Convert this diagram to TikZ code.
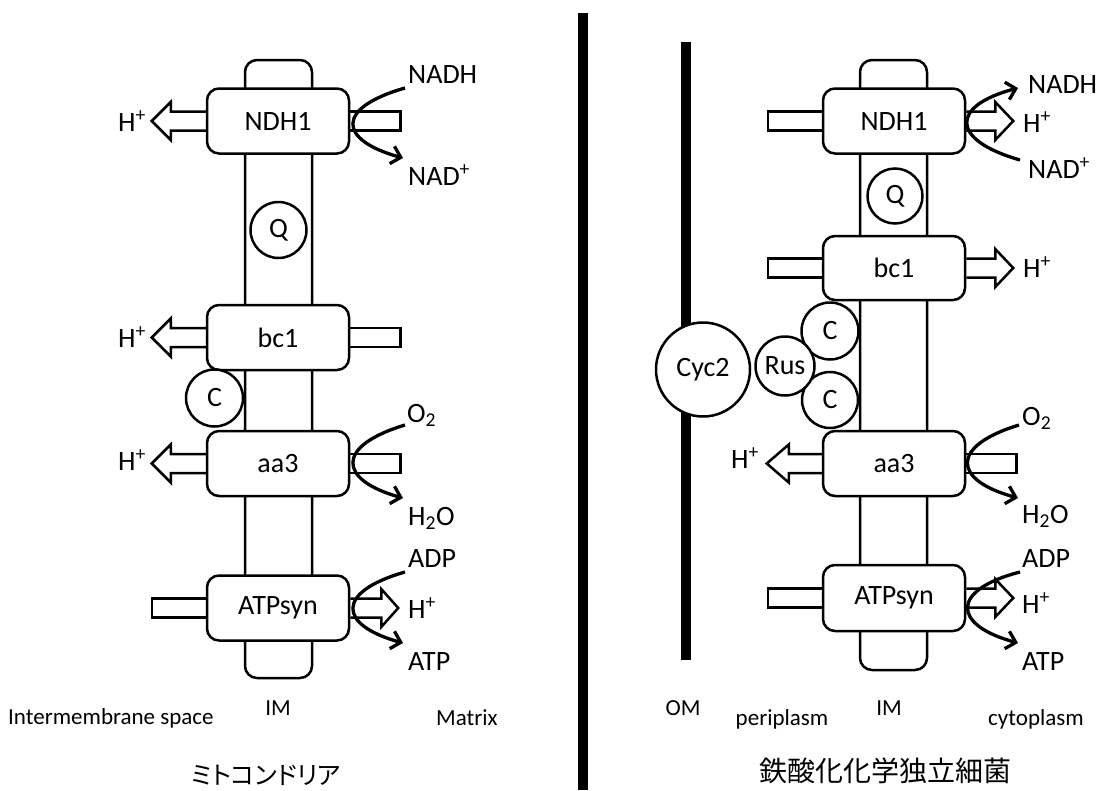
\documentclass[tikz,border=0pt]{standalone}
\usepackage{fontspec}
\setmainfont{Carlito}
\newfontfamily\cjkfont{Noto Sans CJK JP}
\newfontfamily\cjkpfont[RawFeature=+palt]{Noto Sans CJK JP}
\usetikzlibrary{calc,arrows.meta}
\pgfdeclarelayer{bot}
\pgfdeclarelayer{bg}
\pgfsetlayers{bot,bg,main}
\newcommand{\blkleft}[3]{\draw[blk] ($(#1.west)+(0,-9.5)$) -- ++(-#2,0) -- ++(0,-9.5) -- ++(-#3,19) -- ++(#3,19) -- ++(0,-9.5) -- ++(#2,0);}
\newcommand{\blkright}[3]{\draw[blk] ($(#1.east)+(0,-9.5)$) -- ++(#2,0) -- ++(0,-9.5) -- ++(#3,19) -- ++(-#3,19) -- ++(0,-9.5) -- ++(-#2,0);}
\newcommand{\stubleft}[2]{\draw[blk] ($(#1.west)+(0,-9.5)$) -- ++(-#2,0) -- ++(0,19) -- ++(#2,0);}
\newcommand{\stubright}[2]{\draw[blk] ($(#1.east)+(0,-9.5)$) -- ++(#2,0) -- ++(0,19) -- ++(-#2,0);}
\begin{document}
\begin{tikzpicture}[x=1pt,y=-1pt,
  enz/.style={draw, line width=2.5pt, rounded corners=12pt, fill=white, minimum width=142pt, minimum height=65pt, inner sep=0pt, font=\fontsize{28}{30}\selectfont},
  mem/.style={draw, line width=2.5pt, rounded corners=12pt, fill=white, minimum width=67pt, inner sep=0pt},
  circ/.style={draw, circle, line width=2.5pt, fill=white, inner sep=0pt, font=\fontsize{28}{30}\selectfont},
  blk/.style={draw, line width=2.5pt, fill=white, line join=miter},
  flow/.style={line width=3.3pt, -{Straight Barb[length=9pt,width=18pt]}},
  lbl/.style={font=\fontsize{28}{30}\selectfont, inner sep=0pt},
  sml/.style={font=\fontsize{23}{26}\selectfont, inner sep=0pt},
  bar/.style={line width=10pt}]
\useasboundingbox (0,0) rectangle (1100,790);
\begin{pgfonlayer}{bot}
\fill[white] (0,0) rectangle (1100,790);
\end{pgfonlayer}

% divider
\coordinate (divT) at (583,13);
\coordinate (divB) at (583,790);
\draw[bar] (divT) -- (divB);

% ================= left: mitochondria =================
\node[mem, minimum height=618pt] (imL) at (278.5,369) {};
\node[enz] (ndhL) at (278,121) {NDH1};
\node[enz] (bcL) at (278,337.5) {bc1};
\node[enz] (aaL) at (278,463.5) {aa3};
\node[enz] (atpL) at (278,608) {ATPsyn};
\node[circ, minimum size=56pt] (qL) at (278.5,230) {Q};
\node[circ, minimum size=57pt] (cL) at (214.5,398) {C};

\begin{pgfonlayer}{bg}
\blkleft{ndhL}{35}{19}
\blkleft{bcL}{35}{19}
\blkleft{aaL}{35}{19}
\stubright{ndhL}{50}
\stubright{bcL}{50}
\stubright{aaL}{50}
\stubleft{atpL}{54}
\blkright{atpL}{31}{17}
\end{pgfonlayer}

\node[lbl, anchor=base east] (hL1) at (146,131) {H\textsuperscript{+}};
\node[lbl, anchor=base east] (hL2) at (146,347) {H\textsuperscript{+}};
\node[lbl, anchor=base east] (hL3) at (146,470) {H\textsuperscript{+}};
\node[lbl, anchor=base west] (nadhL) at (408,83) {NADH};
\node[lbl, anchor=base west] (nadL) at (408,185) {NAD\textsuperscript{+}};
\node[lbl, anchor=base west] (o2L) at (407,422) {O\textsubscript{2}};
\node[lbl, anchor=base west] (h2oL) at (408,525) {H\textsubscript{2}O};
\node[lbl, anchor=base west] (adpL) at (408,567) {ADP};
\node[lbl, anchor=base west] (hL4) at (408,618) {H\textsuperscript{+}};
\node[lbl, anchor=base west] (atpTL) at (408,670) {ATP};

\coordinate (s1L) at (405,88);
\coordinate (e1L) at (403,158);
\draw[flow] (s1L) .. controls (335,108) and (338,140) .. (e1L);
\coordinate (s2L) at (405,425);
\coordinate (e2L) at (403,498);
\draw[flow] (s2L) .. controls (335,446) and (338,480) .. (e2L);
\coordinate (s3L) at (405,572);
\coordinate (e3L) at (403,643);
\draw[flow] (s3L) .. controls (335,592) and (338,625) .. (e3L);

\node[sml, anchor=base west] (imsL) at (8,724) {Intermembrane space};
\node[sml, anchor=base] (imlbL) at (278,715) {IM};
\node[sml, anchor=base west] (mtxL) at (436,725) {Matrix};
\node[inner sep=0pt, font=\cjkpfont\fontsize{25}{28}\selectfont] (titleL) at (266,775) {ミトコンドリア};

% ================= right: iron-oxidizing bacterium =================
\coordinate (omT) at (686,42);
\coordinate (omB) at (686,660);
\draw[bar] (omT) -- (omB);

\node[mem, minimum height=610pt] (imR) at (893.5,365) {};
\node[enz] (ndhR) at (894,121) {NDH1};
\node[enz, minimum height=64pt] (bcR) at (894,268) {bc1};
\node[enz] (aaR) at (894,463.5) {aa3};
\node[enz, minimum height=66pt] (atpR) at (894,598) {ATPsyn};
\node[circ, minimum size=55pt] (qR) at (895,196) {Q};
\node[circ, minimum size=57pt] (c1R) at (830,331) {C};
\node[circ, minimum size=56pt] (c2R) at (830,400) {C};
\node[circ, minimum size=59pt] (rusR) at (785,366) {Rus};
\node[circ, minimum size=94pt] (cycR) at (703,369.5) {Cyc2};

\begin{pgfonlayer}{bg}
\stubleft{ndhR}{54}
\stubleft{bcR}{54}
\stubleft{atpR}{54}
\blkright{ndhR}{29}{18}
\blkright{bcR}{29}{18}
\blkright{atpR}{29}{18}
\blkleft{aaR}{33}{22}
\stubright{aaR}{50}
\end{pgfonlayer}

\node[lbl, anchor=base west] (nadhR) at (1028,93) {NADH};
\node[lbl, anchor=base west] (hR1) at (1023,132) {H\textsuperscript{+}};
\node[lbl, anchor=base west] (nadR) at (1028,178) {NAD\textsuperscript{+}};
\node[lbl, anchor=base west] (hR2) at (1023,277) {H\textsuperscript{+}};
\node[lbl, anchor=base west] (o2R) at (1022,425) {O\textsubscript{2}};
\node[lbl, anchor=base west] (h2oR) at (1022,523) {H\textsubscript{2}O};
\node[lbl, anchor=base east] (hR3) at (759,468) {H\textsuperscript{+}};
\node[lbl, anchor=base west] (adpR) at (1022,567) {ADP};
\node[lbl, anchor=base west] (hR4) at (1022,613) {H\textsuperscript{+}};
\node[lbl, anchor=base west] (atpTR) at (1022,670) {ATP};

\coordinate (s1R) at (1020,160);
\coordinate (e1R) at (1018,88);
\draw[flow] (s1R) .. controls (950,140) and (950,106) .. (e1R);
\coordinate (s2R) at (1019,425);
\coordinate (e2R) at (1018,498);
\draw[flow] (s2R) .. controls (950,446) and (952,480) .. (e2R);
\coordinate (s3R) at (1020,572);
\coordinate (e3R) at (1018,643);
\draw[flow] (s3R) .. controls (950,590) and (952,625) .. (e3R);

\node[sml, anchor=base] (omlb) at (683,715) {OM};
\node[sml, anchor=base] (peri) at (782,725) {periplasm};
\node[sml, anchor=base] (imlbR) at (889,715) {IM};
\node[sml, anchor=base] (cyto) at (1036,725) {cytoplasm};
\node[inner sep=0pt, font=\cjkfont\fontsize{28}{32}\selectfont] (titleR) at (885,771) {鉄酸化化学独立細菌};
\end{tikzpicture}
\end{document}
